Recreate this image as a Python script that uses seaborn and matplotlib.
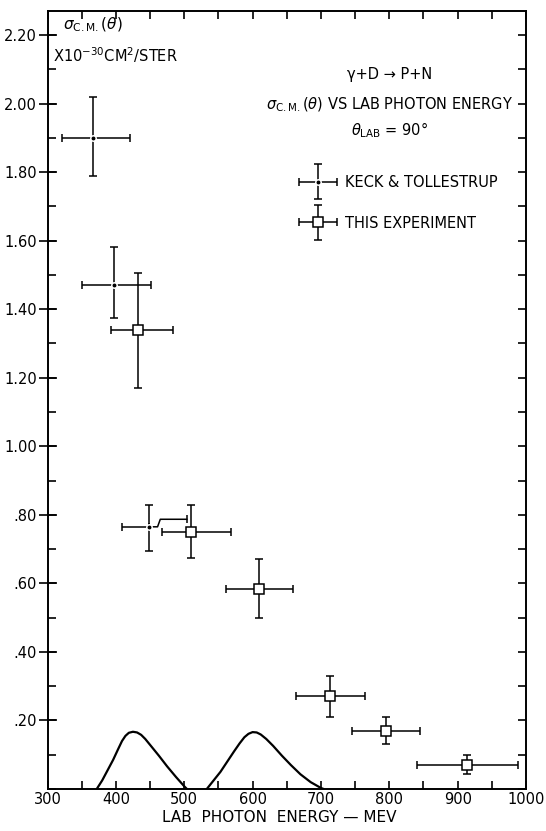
import matplotlib
matplotlib.use("Agg")
import matplotlib.pyplot as plt
import seaborn as sns
import numpy as np
import pandas as pd
from matplotlib.ticker import FixedLocator, MultipleLocator
from matplotlib.legend_handler import HandlerErrorbar, HandlerTuple

# Keck & Tollestrup points (MeV, 10^-30 cm^2/ster)
keck_e = [366, 397, 449]
keck_e_lo = [321, 351, 409]
keck_e_hi = [421, 451, 504]
keck_s = [1.90, 1.47, 0.765]
keck_s_lo = [1.79, 1.375, 0.695]
keck_s_hi = [2.02, 1.58, 0.83]

# This experiment
this_e = [433, 510, 610, 714, 795, 914]
this_e_lo = [393, 468, 561, 664, 745, 840]
this_e_hi = [483, 569, 659, 764, 845, 989]
this_s = [1.34, 0.75, 0.585, 0.27, 0.17, 0.07]
this_s_lo = [1.17, 0.675, 0.50, 0.21, 0.13, 0.045]
this_s_hi = [1.505, 0.83, 0.67, 0.33, 0.21, 0.10]

# resolution bumps along the bottom
bump1_e = [372, 380, 388, 396, 403, 409, 414, 419, 425, 431, 437, 443, 452, 463, 475, 488, 500, 504]
bump1_s = [0.0, 0.025, 0.055, 0.085, 0.115, 0.14, 0.155, 0.164, 0.167, 0.165, 0.158, 0.146, 0.124, 0.097, 0.066, 0.035, 0.008, 0.0]
bump2_e = [533, 543, 553, 563, 573, 581, 588, 594, 600, 606, 612, 620, 630, 643, 656, 670, 685, 700, 704]
bump2_s = [0.0, 0.025, 0.05, 0.08, 0.11, 0.133, 0.151, 0.161, 0.166, 0.165, 0.159, 0.146, 0.126, 0.097, 0.07, 0.043, 0.02, 0.003, 0.0]

ytick_vals = [0.2, 0.4, 0.6, 0.8, 1.0, 1.2, 1.4, 1.6, 1.8, 2.0, 2.2]
ytick_labels = [".20", ".40", ".60", ".80", "1.00", "1.20", "1.40", "1.60", "1.80", "2.00", "2.20"]

sns.set_theme(style="white")
plt.rcParams['font.family'] = ['DejaVu Sans']
plt.rcParams['mathtext.fontset'] = 'dejavusans'
plt.rcParams['text.color'] = 'black'
plt.rcParams['xtick.color'] = 'black'
plt.rcParams['ytick.color'] = 'black'

W, H = 546, 831
fig = plt.figure(figsize=(W / 100, H / 100), dpi=100)
ax = fig.add_axes([47.5 / W, 1 - 789 / H, (526 - 47.5) / W, (789 - 11) / H])

# bumps
bumps = pd.DataFrame({
    "e": bump1_e + bump2_e,
    "s": bump1_s + bump2_s,
    "bump": ["a"] * len(bump1_e) + ["b"] * len(bump2_e),
})
sns.lineplot(data=bumps, x="e", y="s", units="bump", estimator=None, sort=False,
             color="black", linewidth=1.6, ax=ax, legend=False,
             solid_joinstyle="round")

err_kw = dict(ecolor="black", elinewidth=1.1, capsize=2.8, capthick=1.1)

# this experiment
te = np.array(this_e)
ts = np.array(this_s)
this_cont = ax.errorbar(te, ts,
                        xerr=[te - np.array(this_e_lo), np.array(this_e_hi) - te],
                        yerr=[ts - np.array(this_s_lo), np.array(this_s_hi) - ts],
                        fmt="s", ms=6.5, mfc="white", mec="black", mew=1.1,
                        zorder=3, **err_kw)

# Keck & Tollestrup, last point has its right arm offset upward
ke = np.array(keck_e)
ks = np.array(keck_s)
x_right = np.array(keck_e_hi) - ke
x_right[2] = 0
keck_cont = ax.errorbar(ke, ks,
                        xerr=[ke - np.array(keck_e_lo), x_right],
                        yerr=[ks - np.array(keck_s_lo), np.array(keck_s_hi) - ks],
                        fmt="none", zorder=2, **err_kw)
gap, = ax.plot(ke, ks, "o", color="white", ms=5, mew=0, zorder=3)
dot, = ax.plot(ke, ks, "o", color="black", ms=1.8, zorder=4)

jog = 0.022
ax.plot([ke[2], ke[2] + 12, ke[2] + 16, keck_e_hi[2]],
        [ks[2], ks[2], ks[2] + jog, ks[2] + jog], color="black", lw=1.1, zorder=2)
ax.plot([keck_e_hi[2]], [ks[2] + jog], marker="|", ms=5.6, mew=1.1, color="black")

# axes
ax.set_xlim(300, 1000)
ax.set_ylim(0, 2.27)
ax.set_xlabel("")
ax.set_ylabel("")
for sp in ax.spines.values():
    sp.set_linewidth(1.4)
    sp.set_color("black")

ax.xaxis.set_major_locator(MultipleLocator(100))
ax.xaxis.set_minor_locator(MultipleLocator(50))
ax.tick_params(axis="x", which="both", direction="in", length=6, width=1.2,
               top=True, bottom=True, labelsize=10.5, pad=2)

ax.yaxis.set_major_locator(FixedLocator(ytick_vals))
ax.set_yticklabels(ytick_labels)
ax.yaxis.set_minor_locator(MultipleLocator(0.1))
ax.yaxis.remove_overlapping_locs = False
ax.tick_params(axis="y", which="major", direction="inout", length=13, width=1.2,
               left=True, right=False, labelsize=10.5, pad=1)
ax.tick_params(axis="y", which="minor", direction="in", length=6, width=1.2,
               left=True, right=True)

# text
fig.text(63 / W, 1 - 25 / H, r"$\sigma_{\rm C.M.}(\theta)$", fontsize=11, va="center", ha="left")
fig.text(53 / W, 1 - 55 / H, r"X10$^{-30}$CM$^2$/STER", fontsize=10.5, va="center", ha="left")

cx = 390 / W
fig.text(cx, 1 - 75 / H, "γ+D → P+N", fontsize=10.5, ha="center", va="center")
fig.text(cx, 1 - 105 / H, r"$\sigma_{\rm C.M.}(\theta)$ VS LAB PHOTON ENERGY", fontsize=10.5,
         ha="center", va="center")
fig.text(cx, 1 - 130 / H, r"$\theta_{\rm LAB}$ = 90°", fontsize=10.5, ha="center", va="center")

fig.text(279 / W, 1 - 818 / H, "LAB  PHOTON  ENERGY — MEV", fontsize=11,
         ha="center", va="center")

eb_handler = HandlerErrorbar(xerr_size=1.3, yerr_size=1.2)
leg = ax.legend([(keck_cont, gap, dot), this_cont], ["KECK & TOLLESTRUP", "THIS EXPERIMENT"],
                handler_map={type(this_cont): eb_handler, tuple: HandlerTuple(ndivide=1, pad=0)},
                loc="upper left", bbox_to_anchor=(298 / W, 1 - 175 / H),
                bbox_transform=fig.transFigure, frameon=False, fontsize=10.5,
                handlelength=2.8, handletextpad=0.4, labelspacing=1.75, borderpad=0,
                borderaxespad=0)

fig.savefig("out.png", dpi=100)
